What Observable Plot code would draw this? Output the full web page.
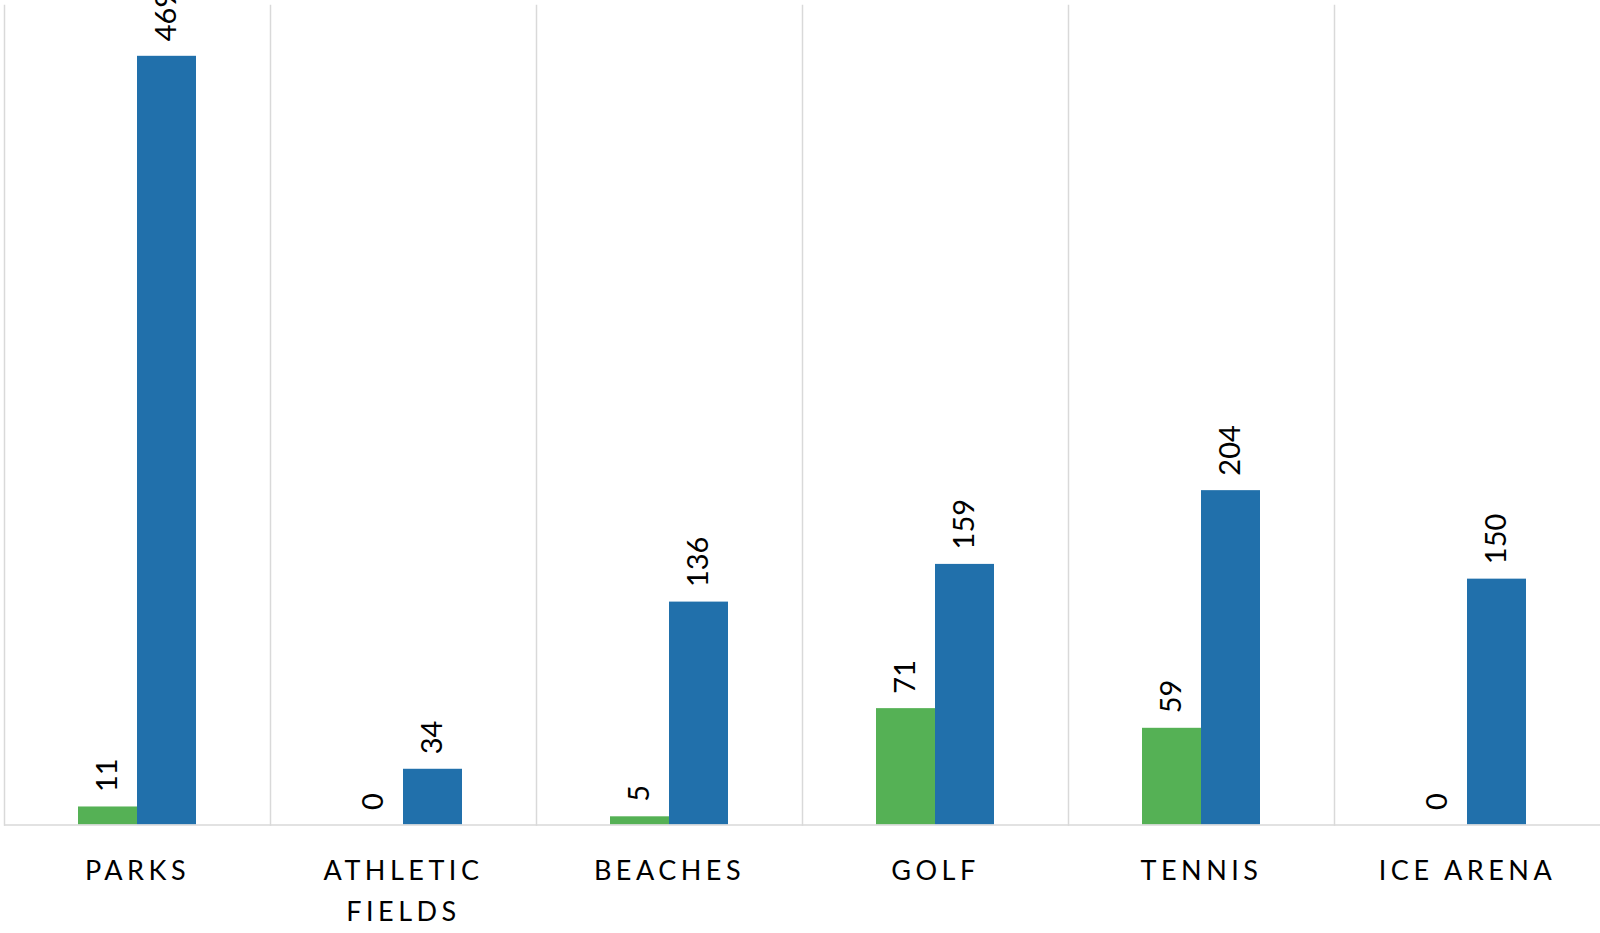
<!DOCTYPE html>
<html>
<head>
<meta charset="utf-8">
<script src="https://cdn.jsdelivr.net/npm/d3@7"></script>
<script src="https://cdn.jsdelivr.net/npm/@observablehq/plot@0.6"></script>
<style>
  html, body { margin: 0; padding: 0; background: #ffffff; }
  #chart { width: 1600px; height: 933px; overflow: hidden; }
</style>
</head>
<body>
<div id="chart"></div>
<script>
const categories = ["PARKS", "ATHLETIC\nFIELDS", "BEACHES", "GOLF", "TENNIS", "ICE ARENA"];
const seriesNames = ["Series 1", "Series 2"];
const series1Values = [11, 0, 5, 71, 59, 0];
const series2Values = [469, 34, 136, 159, 204, 150];
const seriesColors = ["#55B155", "#2170AB"];

const rows = [];
categories.forEach((c, i) => {
  rows.push({category: c, series: seriesNames[0], value: series1Values[i]});
  rows.push({category: c, series: seriesNames[1], value: series2Values[i]});
});

const plot = Plot.plot({
  width: 1600,
  height: 933,
  marginLeft: 4,
  marginRight: 0,
  marginTop: 5,
  marginBottom: 108.5,
  style: {fontFamily: "Lato, 'Open Sans', sans-serif", fontSize: "29px", background: "#ffffff", color: "#000000"},
  fx: {domain: categories, padding: 0, axis: null},
  x: {domain: seriesNames, paddingInner: 0, paddingOuter: 1.22, axis: null},
  y: {domain: [0, 500], axis: null},
  color: {domain: seriesNames, range: seriesColors},
  marks: [
    Plot.frame({anchor: "left", stroke: "#d9d9d9", strokeWidth: 1.5}),
    Plot.barY(rows, {fx: "category", x: "series", y: "value", fill: "series"}),
    Plot.ruleY([0], {stroke: "#d9d9d9", strokeWidth: 1.5}),
    Plot.text(rows, {
      fx: "category", x: "series", y: "value", text: d => String(d.value),
      rotate: -90, textAnchor: "start", lineAnchor: "middle", dy: -15,
      fontSize: 29, fill: "#000000"
    }),
    Plot.text(categories, {
      fx: d => d, text: d => d, frameAnchor: "bottom", lineAnchor: "top",
      dy: 26, fontSize: 27, lineHeight: 1.52, fill: "#000000"
    })
  ]
});

document.getElementById("chart").appendChild(plot);
const flat = categories.map(c => c.replace(/\n/g, ""));
d3.select(plot).selectAll("text")
  .filter(function() { return flat.includes(this.textContent); })
  .style("letter-spacing", "4.5px");
</script>
</body>
</html>
